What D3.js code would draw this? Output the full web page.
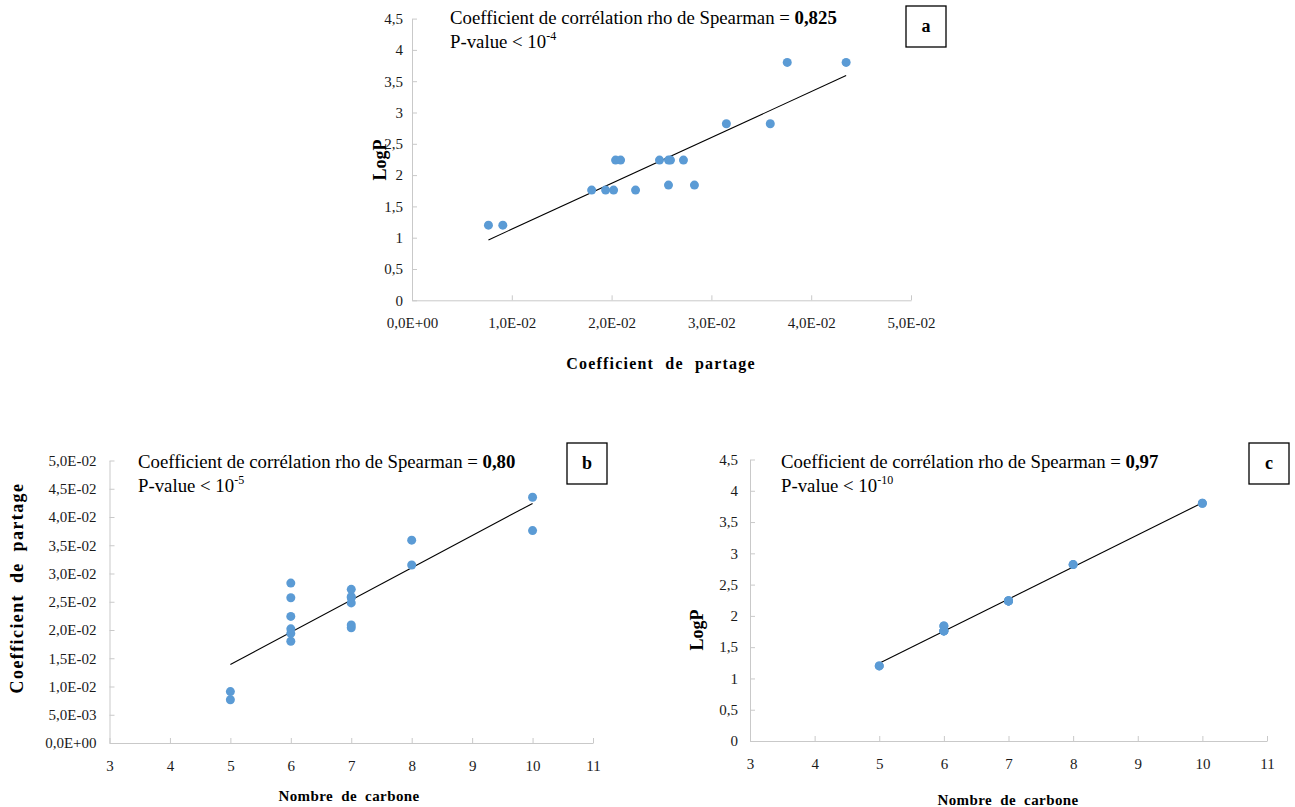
<!DOCTYPE html>
<html>
<head>
<meta charset="utf-8">
<script src="https://cdn.jsdelivr.net/npm/d3@7"></script>
<style>
  html, body { margin: 0; padding: 0; background: #fff; }
  svg { display: block; }
  text { font-family: "Liberation Serif", "Times New Roman", serif; }
</style>
</head>
<body>
<svg id="chart" width="1295" height="807"></svg>
<script>
// ---------------- DATA ----------------
const carbonNumber = [5, 5, 6, 6, 6, 6, 6, 6, 7, 7, 7, 7, 7, 7, 8, 8, 10, 10];
const partitionCoef = [0.00766, 0.0091, 0.0180, 0.0194, 0.0202, 0.0224, 0.0257, 0.0283,
                       0.0204, 0.0209, 0.0248, 0.0257, 0.0259, 0.0272, 0.0315, 0.0359, 0.0376, 0.0435];
const logP = [1.20, 1.20, 1.76, 1.76, 1.76, 1.76, 1.84, 1.84,
              2.24, 2.24, 2.24, 2.24, 2.24, 2.24, 2.82, 2.82, 3.80, 3.80];

const logPTicks = [0, 0.5, 1, 1.5, 2, 2.5, 3, 3.5, 4, 4.5];
const partitionTicksX = [0, 0.01, 0.02, 0.03, 0.04, 0.05];
const partitionTicksY = [0, 0.005, 0.01, 0.015, 0.02, 0.025, 0.03, 0.035, 0.04, 0.045, 0.05];
const carbonTicks = [3, 4, 5, 6, 7, 8, 9, 10, 11];

const panelLetters = ["a", "b", "c"];
const rhoValues = ["0,825", "0,80", "0,97"];
const pExponents = ["-4", "-5", "-10"];
const xTitles = ["Coefficient de partage", "Nombre de carbone", "Nombre de carbone"];
const yTitles = ["LogP", "Coefficient de partage", "LogP"];

// ---------------- FORMATTERS ----------------
function fmtDec(v) { return String(+v.toFixed(2)).replace(".", ","); }
function fmtSci(v) {
  if (v === 0) return "0,0E+00";
  const s = v.toExponential(1);
  const [m, e] = s.split("e");
  const ei = parseInt(e, 10);
  const sign = ei < 0 ? "-" : "+";
  const ab = String(Math.abs(ei)).padStart(2, "0");
  return m.replace(".", ",") + "E" + sign + ab;
}

const svg = d3.select("#chart");
const markerColor = "#5b9bd5";
const axisColor = "#c9c9c9";
const labelColor = "#1a1a1a";
const serif = '"Liberation Serif", "Times New Roman", serif';

function linReg(xs, ys) {
  const mx = d3.mean(xs), my = d3.mean(ys);
  let sxy = 0, sxx = 0;
  xs.forEach((xv, i) => { sxy += (xv - mx) * (ys[i] - my); sxx += (xv - mx) * (xv - mx); });
  const b = sxy / sxx;
  return { slope: b, intercept: my - b * mx };
}

function drawPanel(cfg, idx) {
  const g = svg.append("g");
  const x = d3.scaleLinear().domain(cfg.xDomain).range([cfg.left, cfg.right]);
  const y = d3.scaleLinear().domain(cfg.yDomain).range([cfg.bottom, cfg.top]);

  const xa = g.append("g").attr("transform", `translate(0,${cfg.bottom})`)
    .call(d3.axisBottom(x).tickValues(cfg.xTicks).tickFormat(cfg.xFmt)
      .tickSizeInner(-5).tickSizeOuter(0).tickPadding(cfg.xPad));
  const ya = g.append("g").attr("transform", `translate(${cfg.left},0)`)
    .call(d3.axisLeft(y).tickValues(cfg.yTicks).tickFormat(cfg.yFmt)
      .tickSizeInner(-5).tickSizeOuter(0).tickPadding(cfg.yPad));
  [xa, ya].forEach(a => {
    a.attr("font-family", serif).attr("font-size", 15);
    a.select(".domain").attr("stroke", axisColor).attr("stroke-width", 1);
    a.selectAll(".tick line").attr("stroke", axisColor);
    a.selectAll(".tick text").attr("fill", labelColor);
  });

  // trend line (least squares)
  const xs = cfg.xData, ys = cfg.yData;
  const r = linReg(xs, ys);
  const x0 = d3.min(xs), x1 = d3.max(xs);
  g.append("line")
    .attr("x1", x(x0)).attr("y1", y(r.intercept + r.slope * x0))
    .attr("x2", x(x1)).attr("y2", y(r.intercept + r.slope * x1))
    .attr("stroke", "#000").attr("stroke-width", 1.1);

  // points
  g.selectAll("circle.pt").data(xs.map((v, i) => [v, ys[i]])).join("circle")
    .attr("class", "pt")
    .attr("cx", d => x(d[0])).attr("cy", d => y(d[1]))
    .attr("r", 4.5).attr("fill", markerColor);

  // annotation
  const t1 = g.append("text").attr("x", cfg.annX).attr("y", cfg.annY)
    .attr("fill", "#000").attr("font-family", serif).attr("font-size", 18.8);
  t1.append("tspan").text("Coefficient de corrélation rho de Spearman = ");
  t1.append("tspan").attr("font-weight", "bold").text(rhoValues[idx]);
  const t2 = g.append("text").attr("x", cfg.annX).attr("y", cfg.annY + 24)
    .attr("fill", "#000").attr("font-family", serif).attr("font-size", 18.8);
  t2.append("tspan").text("P-value < 10");
  t2.append("tspan").attr("dy", -8).attr("font-size", 12).text(pExponents[idx]);

  // letter box
  g.append("rect").attr("x", cfg.boxX).attr("y", cfg.boxY).attr("width", 40).attr("height", 41)
    .attr("fill", "#fff").attr("stroke", "#000").attr("stroke-width", 1.3);
  g.append("text").attr("x", cfg.boxX + 20).attr("y", cfg.boxY + 26)
    .attr("text-anchor", "middle").attr("font-weight", "bold")
    .attr("font-family", serif).attr("font-size", 18)
    .text(panelLetters[idx]);

  // axis titles
  g.append("text").attr("x", cfg.xtX).attr("y", cfg.xtY).attr("text-anchor", "middle")
    .attr("font-weight", "bold").attr("font-family", serif).attr("font-size", cfg.xtSize)
    .style("letter-spacing", cfg.xtLs + "px").style("word-spacing", cfg.xtWs + "px")
    .text(xTitles[idx]);
  g.append("text").attr("transform", `translate(${cfg.ytX},${cfg.ytY}) rotate(-90)`)
    .attr("text-anchor", "middle").attr("font-weight", "bold")
    .attr("font-family", serif).attr("font-size", cfg.ytSize)
    .style("letter-spacing", cfg.ytLs + "px").style("word-spacing", cfg.ytWs + "px")
    .text(yTitles[idx]);
}

const panels = [
  { xData: partitionCoef, yData: logP, xDomain: [0, 0.05], yDomain: [0, 4.5],
    xTicks: partitionTicksX, yTicks: logPTicks, xFmt: fmtSci, yFmt: fmtDec,
    left: 412, right: 911, top: 18.6, bottom: 300.3, xPad: 17, yPad: 9,
    annX: 450, annY: 24, boxX: 906, boxY: 6,
    xtX: 661, xtY: 369, xtSize: 16, xtLs: 1.2, xtWs: 6,
    ytX: 386, ytY: 160, ytSize: 18, ytLs: 0, ytWs: 0 },
  { xData: carbonNumber, yData: partitionCoef, xDomain: [3, 11], yDomain: [0, 0.05],
    xTicks: carbonTicks, yTicks: partitionTicksY, xFmt: d3.format("d"), yFmt: fmtSci,
    left: 109.5, right: 593, top: 460.5, bottom: 743, xPad: 17, yPad: 13,
    annX: 138, annY: 468, boxX: 567, boxY: 443,
    xtX: 349, xtY: 801, xtSize: 15, xtLs: 0.4, xtWs: 4,
    ytX: 23, ytY: 588, ytSize: 18, ytLs: 1.4, ytWs: 5 },
  { xData: carbonNumber, yData: logP, xDomain: [3, 11], yDomain: [0, 4.5],
    xTicks: carbonTicks, yTicks: logPTicks, xFmt: d3.format("d"), yFmt: fmtDec,
    left: 750, right: 1267, top: 459.5, bottom: 741, xPad: 17, yPad: 12,
    annX: 781, annY: 468, boxX: 1249, boxY: 443,
    xtX: 1008, xtY: 805, xtSize: 15, xtLs: 0.4, xtWs: 4,
    ytX: 703, ytY: 630, ytSize: 18, ytLs: 0, ytWs: 0 }
];

panels.forEach((p, i) => drawPanel(p, i));
</script>
</body>
</html>
